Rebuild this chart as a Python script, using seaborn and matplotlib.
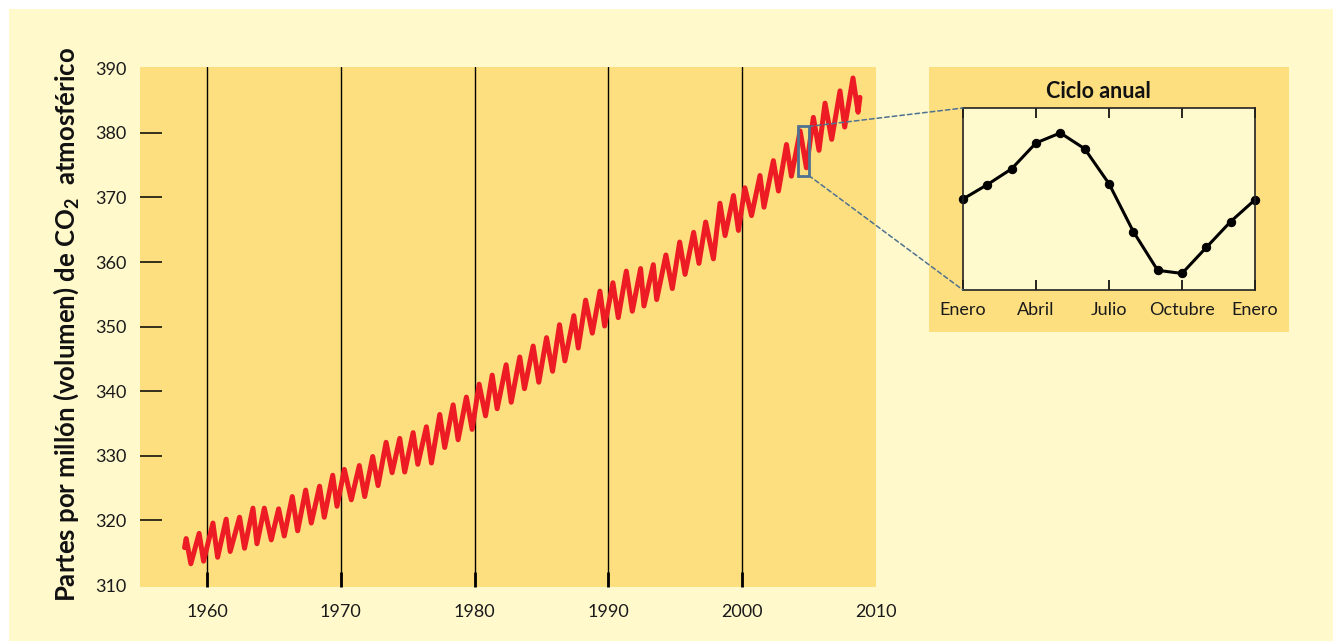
import pandas as pd
import numpy as np
import matplotlib
matplotlib.use('Agg')
import matplotlib.pyplot as plt
from matplotlib.patches import Rectangle, ConnectionPatch
import seaborn as sns

# ==========================================
# 0. Estilo
# ==========================================
sns.set_theme(style='white')
plt.rcParams['font.family'] = ['Lato', 'DejaVu Sans']

FONDO = '#FFF9CC'
NARANJA = '#FDDF80'
CLARO = '#FFFACD'
ROJO = '#ED1C24'
AZUL = '#4E7290'

# ==========================================
# 1. Datos
# ==========================================
anio = [1958.33, 1958.45, 1958.80, 1959.42, 1959.75, 1960.45, 1960.80, 1961.44, 1961.74,
        1962.44, 1962.81, 1963.44, 1963.74, 1964.29, 1964.81, 1965.36, 1965.78, 1966.38,
        1966.78, 1967.38, 1967.80, 1968.42, 1968.77, 1969.40, 1969.72, 1970.27, 1970.79,
        1971.39, 1971.79, 1972.39, 1972.79, 1973.39, 1973.84, 1974.41, 1974.78, 1975.41,
        1975.76, 1976.40, 1976.78, 1977.40, 1977.77, 1978.40, 1978.77, 1979.39, 1979.82,
        1980.34, 1980.82, 1981.32, 1981.69, 1982.36, 1982.74, 1983.38, 1983.73, 1984.38,
        1984.80, 1985.38, 1985.83, 1986.35, 1986.75, 1987.42, 1987.75, 1988.30, 1988.80,
        1989.37, 1989.72, 1990.34, 1990.74, 1991.34, 1991.79, 1992.41, 1992.66, 1993.36,
        1993.61, 1994.30, 1994.78, 1995.33, 1995.73, 1996.37, 1996.77, 1997.27, 1997.85,
        1998.34, 1998.72, 1999.35, 1999.72, 2000.20, 2000.70, 2001.33, 2001.63, 2002.33,
        2002.71, 2003.31, 2003.68, 2004.33, 2004.80, 2005.32, 2005.74, 2006.19, 2006.69,
        2007.31, 2007.66, 2008.28, 2008.66, 2008.80]
ppm = [315.8, 317.2, 313.3, 318.0, 313.7, 319.6, 314.3, 320.2, 315.2,
       320.5, 315.7, 321.9, 316.4, 321.9, 317.0, 321.8, 317.6, 323.7,
       318.4, 324.7, 319.6, 325.3, 320.5, 327.0, 322.2, 327.9, 323.2,
       328.5, 323.7, 329.9, 325.4, 332.1, 327.4, 332.7, 327.5, 333.6,
       328.7, 334.5, 328.9, 336.4, 331.3, 337.9, 332.5, 339.1, 334.1,
       341.1, 336.2, 342.5, 337.3, 344.1, 338.3, 345.3, 340.4, 347.0,
       341.4, 348.3, 343.1, 350.3, 344.7, 351.7, 346.7, 354.1, 349.0,
       355.5, 350.1, 356.8, 351.4, 358.6, 352.4, 359.0, 353.2, 359.6,
       354.2, 361.1, 355.9, 363.1, 358.1, 364.6, 359.8, 366.2, 360.5,
       369.1, 364.1, 370.3, 364.9, 371.5, 367.2, 373.4, 368.5, 375.7,
       371.0, 378.2, 373.3, 380.3, 374.6, 382.4, 377.3, 384.6, 379.0,
       386.5, 380.9, 388.5, 383.2, 385.5]

anios_tick = [1960, 1970, 1980, 1990, 2000, 2010]
ppm_tick = [310, 320, 330, 340, 350, 360, 370, 380, 390]

# ciclo anual (unidades relativas, Enero -> Enero)
mes = [0, 1, 2, 3, 4, 5, 6, 7, 8, 9, 10, 11, 12]
ciclo = [5.0, 5.79, 6.66, 8.08, 8.63, 7.76, 5.84, 3.21, 1.08, 0.91, 2.34, 3.76, 4.96]
mes_tick = [0, 3, 6, 9, 12]
mes_lbl = ['Enero', 'Abril', 'Julio', 'Octubre', 'Enero']

# ventana ampliada (año 2004)
zoom_x = (2004.15, 2004.98)
zoom_y = (373.4, 381.0)

df = pd.DataFrame({'anio': anio, 'ppm': ppm})
df_ciclo = pd.DataFrame({'mes': mes, 'valor': ciclo})

# ==========================================
# 2. Figura
# ==========================================
W, H = 1337, 641
fig = plt.figure(figsize=(W / 100, H / 100), dpi=100)
fig.patch.set_facecolor('white')
fig.add_artist(Rectangle((9 / W, 0), (1333 - 9) / W, (H - 9) / H, transform=fig.transFigure,
                         facecolor=FONDO, edgecolor='none', zorder=-10))
# panel naranja del recuadro
fig.add_artist(Rectangle((929 / W, 1 - 332 / H), 360 / W, 265 / H, transform=fig.transFigure,
                         facecolor=NARANJA, edgecolor='none', zorder=-5))

ax = fig.add_axes([140 / W, 1 - 587 / H, 736 / W, 520 / H])
ax.set_facecolor(NARANJA)
sns.lineplot(data=df, x='anio', y='ppm', ax=ax, color=ROJO, linewidth=3.6,
             estimator=None, sort=False, solid_joinstyle='round', zorder=3)
ax.set_xlim(1955, 2010)
ax.set_ylim(309.7, 390.2)
ax.set_xticks(anios_tick)
ax.set_yticks(ppm_tick)
ax.set_xlabel('')
ax.set_ylabel('')
for s in ax.spines.values():
    s.set_visible(False)
ax.xaxis.grid(True, color='black', linewidth=1.0)
ax.yaxis.grid(False)
ax.tick_params(axis='x', direction='in', length=11, width=2, color='black',
               bottom=True, labelsize=13, pad=12, labelcolor='#1a1a1a')
ax.tick_params(axis='y', direction='in', length=16, width=1.1, color='black',
               left=True, labelsize=13, pad=10, labelcolor='#1a1a1a')
# sin marcas en los bordes (solo la etiqueta)
for t, v in zip(ax.xaxis.get_major_ticks(), anios_tick):
    if v == 2010:
        t.tick1line.set_visible(False)
        t.gridline.set_visible(False)
for t, v in zip(ax.yaxis.get_major_ticks(), ppm_tick):
    if v in (310, 390):
        t.tick1line.set_visible(False)

fig.text(66 / W, 1 - 325 / H, r'Partes por millón (volumen) de $\mathregular{CO_2}$  atmosférico',
         rotation=90, ha='center', va='center', fontsize=18.5, fontweight='bold', color='#111111')

rect = Rectangle((zoom_x[0], zoom_y[0]), zoom_x[1] - zoom_x[0], zoom_y[1] - zoom_y[0],
                 facecolor='none', edgecolor=AZUL, linewidth=2.0, zorder=4)
ax.add_patch(rect)

# ==========================================
# 3. Recuadro: ciclo anual
# ==========================================
axi = fig.add_axes([963 / W, 1 - 290 / H, 292 / W, 182 / H])
axi.set_facecolor(CLARO)
sns.lineplot(data=df_ciclo, x='mes', y='valor', ax=axi, color='black', linewidth=2.2,
             marker='o', markersize=6, markeredgecolor='black', estimator=None, clip_on=False)
axi.set_xlim(0, 12)
axi.set_ylim(0, 10)
axi.set_xticks(mes_tick)
axi.set_xticklabels(mes_lbl)
axi.set_yticks([])
axi.set_xlabel('')
axi.set_ylabel('')
for s in axi.spines.values():
    s.set_visible(True)
    s.set_color('#222222')
    s.set_linewidth(1.2)
axi.tick_params(axis='x', direction='in', length=7, width=1.2, color='black',
                bottom=True, top=True, labelsize=13, pad=9, labelcolor='#1a1a1a')
fig.text(1098 / W, 1 - 91 / H, 'Ciclo anual', ha='center', va='center',
         fontsize=15.5, fontweight='bold', color='#111111')

# líneas de conexión
for (yd, yf) in [(zoom_y[1], 1), (zoom_y[0], 0)]:
    con = ConnectionPatch(xyA=(zoom_x[1], yd), coordsA=ax.transData,
                          xyB=(0, yf), coordsB=axi.transAxes,
                          color=AZUL, linestyle=(0, (3, 2)), linewidth=1.1, zorder=5)
    fig.add_artist(con)

fig.savefig('out.png', dpi=100, facecolor=fig.get_facecolor())
